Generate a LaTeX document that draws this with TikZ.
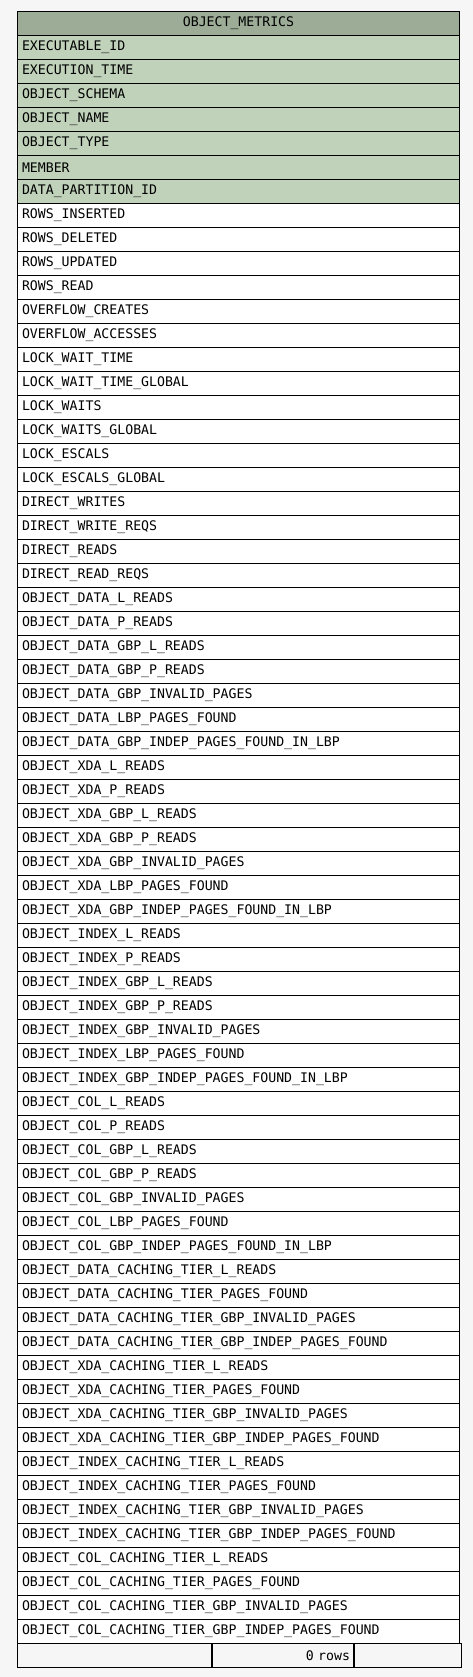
\documentclass[tikz,border=0pt]{standalone}
\usepackage{fontspec}
\newfontfamily\tabfont{DejaVu Sans Mono}
\usetikzlibrary{positioning}

\definecolor{pagebg}{RGB}{246,246,246}
\definecolor{headfill}{RGB}{157,172,151}
\definecolor{keyfill}{RGB}{192,210,186}

\tikzset{
  cell/.style={draw,line width=1pt,minimum height=24pt,inner xsep=4.5pt,inner ysep=0pt,anchor=north west},
  row/.style={cell,text width=433pt,align=left},
}

\begin{document}
\begin{tikzpicture}[x=1pt,y=1pt,font=\tabfont\fontsize{13.2}{15}\selectfont]
%background
\fill[pagebg] (0,0) rectangle (473,-1677);
\useasboundingbox (0,0) rectangle (473,-1677);

%title
\node[cell,fill=headfill,minimum width=442pt] (hdr) at (17,-11) {OBJECT\_METRICS};

%columns
\foreach \name [count=\i] in {EXECUTABLE\_ID,EXECUTION\_TIME,OBJECT\_SCHEMA,OBJECT\_NAME,OBJECT\_TYPE,MEMBER,DATA\_PARTITION\_ID,
  ROWS\_INSERTED,ROWS\_DELETED,ROWS\_UPDATED,ROWS\_READ,OVERFLOW\_CREATES,OVERFLOW\_ACCESSES,
  LOCK\_WAIT\_TIME,LOCK\_WAIT\_TIME\_GLOBAL,LOCK\_WAITS,LOCK\_WAITS\_GLOBAL,LOCK\_ESCALS,LOCK\_ESCALS\_GLOBAL,
  DIRECT\_WRITES,DIRECT\_WRITE\_REQS,DIRECT\_READS,DIRECT\_READ\_REQS,
  OBJECT\_DATA\_L\_READS,OBJECT\_DATA\_P\_READS,OBJECT\_DATA\_GBP\_L\_READS,OBJECT\_DATA\_GBP\_P\_READS,
  OBJECT\_DATA\_GBP\_INVALID\_PAGES,OBJECT\_DATA\_LBP\_PAGES\_FOUND,OBJECT\_DATA\_GBP\_INDEP\_PAGES\_FOUND\_IN\_LBP,
  OBJECT\_XDA\_L\_READS,OBJECT\_XDA\_P\_READS,OBJECT\_XDA\_GBP\_L\_READS,OBJECT\_XDA\_GBP\_P\_READS,
  OBJECT\_XDA\_GBP\_INVALID\_PAGES,OBJECT\_XDA\_LBP\_PAGES\_FOUND,OBJECT\_XDA\_GBP\_INDEP\_PAGES\_FOUND\_IN\_LBP,
  OBJECT\_INDEX\_L\_READS,OBJECT\_INDEX\_P\_READS,OBJECT\_INDEX\_GBP\_L\_READS,OBJECT\_INDEX\_GBP\_P\_READS,
  OBJECT\_INDEX\_GBP\_INVALID\_PAGES,OBJECT\_INDEX\_LBP\_PAGES\_FOUND,OBJECT\_INDEX\_GBP\_INDEP\_PAGES\_FOUND\_IN\_LBP,
  OBJECT\_COL\_L\_READS,OBJECT\_COL\_P\_READS,OBJECT\_COL\_GBP\_L\_READS,OBJECT\_COL\_GBP\_P\_READS,
  OBJECT\_COL\_GBP\_INVALID\_PAGES,OBJECT\_COL\_LBP\_PAGES\_FOUND,OBJECT\_COL\_GBP\_INDEP\_PAGES\_FOUND\_IN\_LBP,
  OBJECT\_DATA\_CACHING\_TIER\_L\_READS,OBJECT\_DATA\_CACHING\_TIER\_PAGES\_FOUND,
  OBJECT\_DATA\_CACHING\_TIER\_GBP\_INVALID\_PAGES,OBJECT\_DATA\_CACHING\_TIER\_GBP\_INDEP\_PAGES\_FOUND,
  OBJECT\_XDA\_CACHING\_TIER\_L\_READS,OBJECT\_XDA\_CACHING\_TIER\_PAGES\_FOUND,
  OBJECT\_XDA\_CACHING\_TIER\_GBP\_INVALID\_PAGES,OBJECT\_XDA\_CACHING\_TIER\_GBP\_INDEP\_PAGES\_FOUND,
  OBJECT\_INDEX\_CACHING\_TIER\_L\_READS,OBJECT\_INDEX\_CACHING\_TIER\_PAGES\_FOUND,
  OBJECT\_INDEX\_CACHING\_TIER\_GBP\_INVALID\_PAGES,OBJECT\_INDEX\_CACHING\_TIER\_GBP\_INDEP\_PAGES\_FOUND,
  OBJECT\_COL\_CACHING\_TIER\_L\_READS,OBJECT\_COL\_CACHING\_TIER\_PAGES\_FOUND,
  OBJECT\_COL\_CACHING\_TIER\_GBP\_INVALID\_PAGES,OBJECT\_COL\_CACHING\_TIER\_GBP\_INDEP\_PAGES\_FOUND}
{
  \ifnum\i<8 \def\rowfill{keyfill}\else\def\rowfill{white}\fi
  \node[row,fill=\rowfill] (r\i) at (17,{-11-24*\i}) {\name};
}

%footer
\node[cell,fill=pagebg,minimum width=194pt] (ft1) at (17,-1643) {};
\node[cell,fill=pagebg,minimum width=141pt,text width=134pt,align=right,inner xsep=3.5pt] (ft2) at (ft1.north east) {0 rows};
\node[cell,fill=pagebg,minimum width=107pt] (ft3) at (ft2.north east) {};
\end{tikzpicture}
\end{document}
